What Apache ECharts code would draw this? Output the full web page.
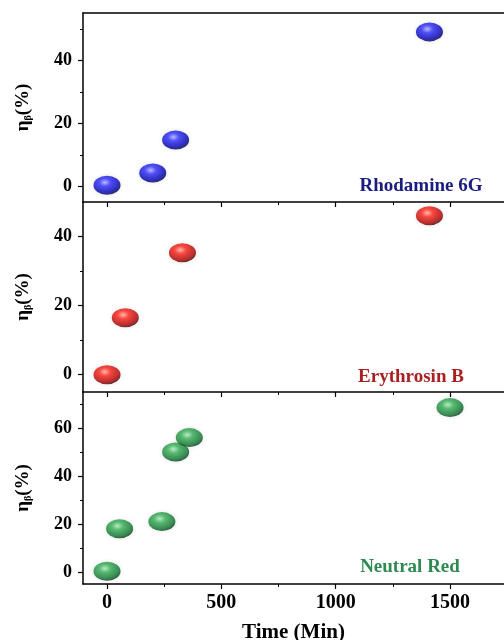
<!DOCTYPE html>
<html><head><meta charset="utf-8">
<script src="https://cdn.jsdelivr.net/npm/echarts@6/dist/echarts.min.js"></script>
<style>html,body{margin:0;padding:0;background:#fff}#c{width:504px;height:640px}</style>
</head><body><div id="c"></div>
<script>
// Data
const rhodamineTime = [0, 200, 300, 1410];
const rhodamineEta = [0.3, 4.2, 14.7, 49];
const erythrosinTime = [0, 80, 330, 1410];
const erythrosinEta = [0, 16.5, 35.3, 46];
const neutralTime = [0, 55, 240, 300, 360, 1500];
const neutralEta = [0.3, 18, 21, 50, 56, 68.5];
const xMajor = [0, 500, 1000, 1500];
const xMinor = [250, 750, 1250];
const yMajor = [[0, 20, 40], [0, 20, 40], [0, 20, 40, 60]];
const yMinor = [[10, 30, 50], [10, 30], [10, 30, 50, 70]];
const yRange = [[-5, 55], [-5, 50], [-5, 75]];
const xRange = [-105, 1736];
const dyeNames = ['Rhodamine 6G', 'Erythrosin B', 'Neutral Red'];

const FONT = '"Liberation Serif", "Times New Roman", serif';
const grids = [
  {left: 83, right: 0, top: 13, height: 189},
  {left: 83, right: 0, top: 202, height: 190},
  {left: 83, right: 0, top: 392, height: 192}
].map(g => Object.assign(g, {show: false, outerBoundsMode: 'none'}));

const xAxes = [], yAxes = [];
for (let i = 0; i < 3; i++) {
  const last = i === 2;
  xAxes.push({
    type: 'value', gridIndex: i, min: xRange[0], max: xRange[1], position: 'bottom',
    axisLine: {show: true, onZero: false, lineStyle: {color: '#000', width: 1.5}},
    axisTick: {show: true, customValues: xMajor, length: 5, lineStyle: {color: '#000', width: 1.2}},
    axisLabel: {show: last, customValues: xMajor, margin: 9, color: '#000', fontSize: 20, fontWeight: 'bold', fontFamily: FONT,
      formatter: v => String(v)},
    splitLine: {show: false},
    name: last ? 'Time (Min)' : '', nameLocation: 'middle', nameGap: 38,
    nameTextStyle: {color: '#000', fontSize: 21, fontWeight: 'bold', fontFamily: FONT}
  });
  xAxes.push({
    type: 'value', gridIndex: i, min: xRange[0], max: xRange[1], position: 'bottom',
    axisLine: {show: false, onZero: false},
    axisTick: {show: true, customValues: xMinor, length: 3, lineStyle: {color: '#000', width: 1}},
    axisLabel: {show: false}, splitLine: {show: false}
  });
  yAxes.push({
    type: 'value', gridIndex: i, min: yRange[i][0], max: yRange[i][1], position: 'left',
    axisLine: {show: true, onZero: false, lineStyle: {color: '#000', width: 1.5}},
    axisTick: {show: true, customValues: yMajor[i], length: 5, lineStyle: {color: '#000', width: 1.2}},
    axisLabel: {customValues: yMajor[i], margin: 11, color: '#000', fontSize: 18, fontWeight: 'bold', fontFamily: FONT},
    splitLine: {show: false},
    name: '{a|η}{b|β}{a|(%)}', nameLocation: 'middle', nameGap: 50, nameRotate: 90,
    nameTextStyle: {color: '#000', rich: {
      a: {fontSize: 19, fontWeight: 'bold', fontFamily: FONT, color: '#000'},
      b: {fontSize: 10, fontWeight: 'bold', fontFamily: FONT, color: '#000', padding: [9, 0, 0, 0]}
    }}
  });
  yAxes.push({
    type: 'value', gridIndex: i, min: yRange[i][0], max: yRange[i][1], position: 'left',
    axisLine: {show: false, onZero: false},
    axisTick: {show: true, customValues: yMinor[i], length: 3, lineStyle: {color: '#000', width: 1}},
    axisLabel: {show: false}, splitLine: {show: false}
  });
}
// top frame line of the first panel
xAxes.push({
  type: 'value', gridIndex: 0, min: xRange[0], max: xRange[1], position: 'top',
  axisLine: {show: true, onZero: false, lineStyle: {color: '#000', width: 1.5}},
  axisTick: {show: false}, axisLabel: {show: false}, splitLine: {show: false}
});

function ball(c0, c1, c2, c3) {
  return {type: 'radial', x: 0.42, y: 0.35, r: 0.7, colorStops: [
    {offset: 0, color: c0}, {offset: 0.3, color: c1}, {offset: 0.75, color: c2}, {offset: 1, color: c3}]};
}
const styles = [
  ball('#b0b0ff', '#2a2aff', '#0000b0', '#000028'),
  ball('#ffb0a0', '#ff2016', '#b00000', '#280000'),
  ball('#b0ecbc', '#34b054', '#0e7430', '#00280e')
];
const times = [rhodamineTime, erythrosinTime, neutralTime];
const etas = [rhodamineEta, erythrosinEta, neutralEta];
const series = [];
for (let i = 0; i < 3; i++) {
  series.push({
    type: 'scatter', name: dyeNames[i], xAxisIndex: 2 * i, yAxisIndex: 2 * i,
    symbol: 'circle', symbolSize: [27, 19],
    itemStyle: {color: styles[i], shadowColor: 'rgba(0,0,0,0.15)', shadowBlur: 4},
    data: times[i].map((t, k) => [t, etas[i][k]])
  });
}

const labelColors = ['#1c1c80', '#a82020', '#2e8a50'];
const labelPos = [[421, 186], [411, 377], [410, 567]];
const chart = echarts.init(document.getElementById('c'), null, {renderer: 'canvas'});
chart.setOption({
  animation: false,
  backgroundColor: '#fff',
  grid: grids, xAxis: xAxes, yAxis: yAxes, series: series,
  graphic: dyeNames.map((n, i) => ({
    type: 'text', x: labelPos[i][0], y: labelPos[i][1], z: 100,
    style: {text: n, fill: labelColors[i], font: 'bold 19px ' + FONT, textAlign: 'center', textVerticalAlign: 'middle'}
  }))
});
</script></body></html>
